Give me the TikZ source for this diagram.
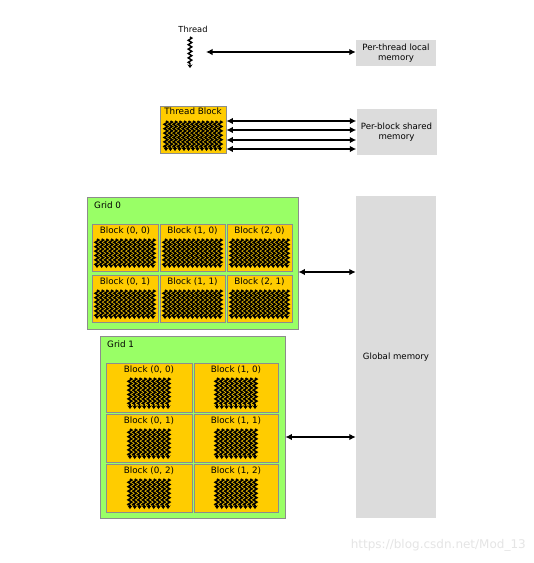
\documentclass[tikz,border=0pt]{standalone}
\usepackage{fontspec}
\setmainfont{DejaVu Sans}
\usetikzlibrary{arrows.meta,decorations.pathmorphing}
\definecolor{blk}{HTML}{FFCC00}
\definecolor{grn}{HTML}{99FF66}
\definecolor{mem}{HTML}{DCDCDC}
\definecolor{edge}{HTML}{8C8C8C}
\tikzset{
  memb/.style={fill=mem,draw=none,inner sep=0pt,font=\fontsize{8.6}{10.5}\selectfont,align=center},
  blockbox/.style={fill=blk,draw=edge,line width=0.8pt,inner sep=0pt},
  gridbox/.style={fill=grn,draw=edge,line width=0.8pt,inner sep=0pt},
  lbl/.style={font=\fontsize{8.8}{10}\selectfont,inner sep=0pt},
  dar/.style={line width=1.6pt,{Latex[length=6.5pt,width=6.5pt]}-{Latex[length=6.5pt,width=6.5pt]}},
  thr/.style={decorate,decoration={zigzag,amplitude=1.8pt,segment length=4.4pt,post=lineto,post length=2.5pt},
    line width=1.6pt,-{Stealth[length=3.5pt,width=5pt]}}
}
\newcommand{\thrds}[5]{%
  \foreach \k in {0,...,#5}{\draw[thr] ({(#1)+((#2)-(#1))*\k/(#5)},#3) -- ({(#1)+((#2)-(#1))*\k/(#5)},#4);}}
\begin{document}
\begin{tikzpicture}[x=1pt,y=-1pt]
\useasboundingbox[fill=white] (0,0) rectangle (534,563);
% thread
\node[lbl,font=\fontsize{8.3}{9}\selectfont] (tl) at (193,29) {Thread};
\draw[thr,line width=1.4pt] (190,37) -- (190,68);
\coordinate (tA) at (206,52);
\node[memb,minimum width=80pt,minimum height=26pt] (lmem) at (396,53) {Per-thread local\\memory};
\draw[dar] (tA) -- (lmem.west |- tA);
% thread block
\node[blockbox,minimum width=66pt,minimum height=47pt] (tb) at (193,129.5) {};
\node[lbl,anchor=north] (tbl) at (tb.north) [yshift=-2.5pt] {Thread Block};
\thrds{166}{220}{121}{151}{12}
\node[memb,minimum width=80pt,minimum height=46pt] (smem) at (396.5,132) {Per-block shared\\memory};
\foreach \yy in {121,130,140,149}{\draw[dar] (tb.east |- 0,\yy) -- (smem.west |- 0,\yy);}
% global memory
\node[memb,minimum width=80pt,minimum height=322pt] (gmem) at (396,357) {Global memory};
% grid 0
\node[gridbox,minimum width=211pt,minimum height=132pt] (g0) at (192.5,263) {};
\node[lbl,anchor=west] (g0l) at (94,205) {Grid 0};
\foreach \c/\xl/\xr in {0/92/158,1/160/225,2/227/292}{
  \foreach \r/\yt/\yb in {0/224/271,1/275/322}{
    \node[blockbox,minimum width={\xr-\xl},minimum height={\yb-\yt}] (b0\c\r) at ({(\xl+\xr)/2},{(\yt+\yb)/2}) {};
    \node[lbl] (b0\c\r l) at ({(\xl+\xr)/2},{\yt+7}) {Block (\c, \r)};
    \thrds{\xl+5}{\xr-5}{\yt+15}{\yb-3}{12}
  }
}
\draw[dar] (g0.east |- 0,272) -- (gmem.west |- 0,272);
% grid 1
\node[gridbox,minimum width=185pt,minimum height=182pt] (g1) at (192.5,427) {};
\node[lbl,anchor=west] (g1l) at (107,344) {Grid 1};
\foreach \c/\xl/\xr in {0/106/192,1/194/278}{
  \foreach \r/\yt/\yb in {0/363/412,1/414/462,2/464/512}{
    \node[blockbox,minimum width={\xr-\xl},minimum height={\yb-\yt}] (b1\c\r) at ({(\xl+\xr)/2},{(\yt+\yb)/2}) {};
    \node[lbl] (b1\c\r l) at ({(\xl+\xr)/2},{\yt+7}) {Block (\c, \r)};
    \thrds{(\xl+\xr)/2-19}{(\xl+\xr)/2+19}{\yt+15}{\yb-3}{8}
  }
}
\draw[dar] (g1.east |- 0,437) -- (gmem.west |- 0,437);
% watermark
\node[font=\fontsize{12}{14}\selectfont,text=black!10,anchor=east,inner sep=0pt] (wm) at (526,545) {https://blog.csdn.net/Mod\_13};
\end{tikzpicture}
\end{document}
